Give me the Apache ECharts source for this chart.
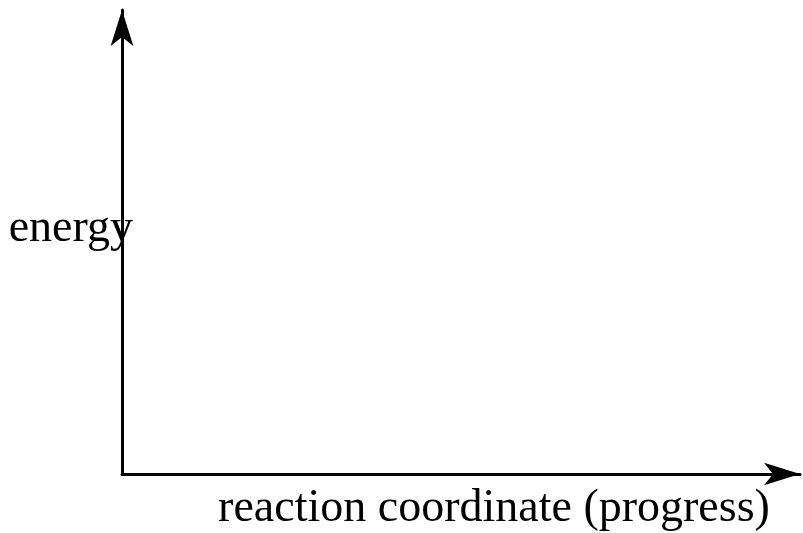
<!DOCTYPE html>
<html>
<head>
<meta charset="utf-8">
<script src="https://cdn.jsdelivr.net/npm/echarts@6/dist/echarts.min.js"></script>
<style>
html,body{margin:0;padding:0;background:#fff;}
#c{width:803px;height:533px;}
</style>
</head>
<body>
<div id="c"></div>
<script>
const xAxisName = 'reaction coordinate (progress)';
const yAxisName = 'energy';
const xRange = [0, 1];
const yRange = [0, 1];
const seriesValues = [];

const chart = echarts.init(document.getElementById('c'), null, {renderer: 'canvas'});
const font = '"Liberation Serif", "DejaVu Serif", serif';
chart.setOption({
  animation: false,
  backgroundColor: '#ffffff',
  grid: {left: 122, right: 3, top: 10, bottom: 59, outerBoundsMode: 'none', containLabel: false},
  xAxis: {
    type: 'value', min: xRange[0], max: xRange[1],
    name: xAxisName, nameLocation: 'middle', nameGap: 35,
    nameTextStyle: {fontFamily: font, fontSize: 46, color: '#000', verticalAlign: 'middle', padding: [0, 0, 0, 66]},
    axisLine: {show: true, symbol: ['none', 'arrow'], symbolSize: [17, 36], lineStyle: {color: '#000', width: 3}},
    axisTick: {show: false}, axisLabel: {show: false}, splitLine: {show: false}
  },
  yAxis: {
    type: 'value', min: yRange[0], max: yRange[1],
    name: yAxisName, nameLocation: 'middle', nameGap: -11, nameRotate: 0,
    nameTextStyle: {fontFamily: font, fontSize: 46, lineHeight: 26, color: '#000', align: 'right', verticalAlign: 'bottom'},
    axisLine: {show: true, symbol: ['none', 'arrow'], symbolSize: [17, 36], lineStyle: {color: '#000', width: 3}},
    axisTick: {show: false}, axisLabel: {show: false}, splitLine: {show: false}
  },
  series: [{type: 'line', data: seriesValues, showSymbol: false}]
});
</script>
</body>
</html>
